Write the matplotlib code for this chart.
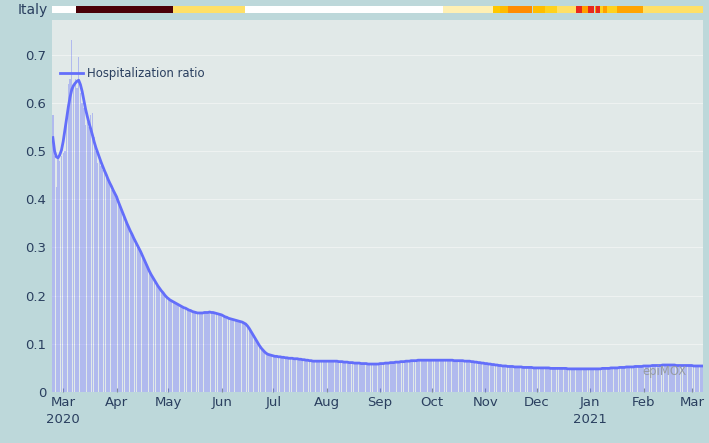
import pandas as pd
import matplotlib
matplotlib.use("Agg")
import matplotlib.pyplot as plt

# daily hospitalization ratio, Italy, from 2020-02-24
start_date = "2020-02-24"

ratio_smooth = [
    0.528, 0.500, 0.488, 0.486, 0.492, 0.502, 0.520, 0.544, 0.568, 0.592,
    0.612, 0.628, 0.636, 0.641, 0.645, 0.647, 0.638, 0.624, 0.606, 0.587,
    0.572, 0.558, 0.546, 0.533, 0.519, 0.507, 0.497, 0.487, 0.477, 0.468,
    0.459, 0.451, 0.442, 0.434, 0.427, 0.419, 0.412, 0.405, 0.395, 0.386,
    0.377, 0.368, 0.359, 0.350, 0.342, 0.334, 0.327, 0.319, 0.312, 0.305,
    0.298, 0.291, 0.283, 0.275, 0.267, 0.259, 0.251, 0.244, 0.238, 0.232,
    0.226, 0.220, 0.215, 0.210, 0.206, 0.201, 0.197, 0.194, 0.191, 0.189,
    0.187, 0.185, 0.183, 0.181, 0.179, 0.177, 0.175, 0.174, 0.172, 0.170,
    0.169, 0.167, 0.166, 0.165, 0.164, 0.164, 0.164, 0.164, 0.165, 0.165,
    0.165, 0.166, 0.165, 0.165, 0.164, 0.163, 0.162, 0.161, 0.160, 0.158,
    0.156, 0.155, 0.153, 0.152, 0.151, 0.150, 0.149, 0.148, 0.147, 0.146,
    0.145, 0.143, 0.141, 0.137, 0.132, 0.126, 0.120, 0.114, 0.108, 0.102,
    0.096, 0.091, 0.087, 0.083, 0.080, 0.078, 0.077, 0.076, 0.075, 0.074,
    0.074, 0.073, 0.073, 0.072, 0.072, 0.071, 0.071, 0.070, 0.070, 0.070,
    0.069, 0.069, 0.069, 0.068, 0.068, 0.067, 0.067, 0.066, 0.066, 0.065,
    0.065, 0.064, 0.064, 0.064, 0.064, 0.064, 0.064, 0.064, 0.064, 0.064,
    0.064, 0.064, 0.064, 0.064, 0.064, 0.064, 0.063, 0.063, 0.063, 0.062,
    0.062, 0.062, 0.061, 0.061, 0.061, 0.060, 0.060, 0.060, 0.060, 0.059,
    0.059, 0.059, 0.059, 0.058, 0.058, 0.058, 0.058, 0.058, 0.058, 0.058,
    0.059, 0.059, 0.059, 0.060, 0.060, 0.060, 0.061, 0.061, 0.061, 0.062,
    0.062, 0.062, 0.063, 0.063, 0.063, 0.064, 0.064, 0.064, 0.065, 0.065,
    0.065, 0.065, 0.066, 0.066, 0.066, 0.066, 0.066, 0.066, 0.066, 0.066,
    0.066, 0.066, 0.066, 0.066, 0.066, 0.066, 0.066, 0.066, 0.066, 0.066,
    0.066, 0.066, 0.066, 0.065, 0.065, 0.065, 0.065, 0.065, 0.065, 0.064,
    0.064, 0.064, 0.064, 0.063, 0.063, 0.062, 0.062, 0.061, 0.061, 0.060,
    0.060, 0.059, 0.059, 0.058, 0.058, 0.057, 0.057, 0.056, 0.056, 0.055,
    0.055, 0.054, 0.054, 0.054, 0.053, 0.053, 0.053, 0.053, 0.052, 0.052,
    0.052, 0.052, 0.052, 0.051, 0.051, 0.051, 0.051, 0.051, 0.051, 0.050,
    0.050, 0.050, 0.050, 0.050, 0.050, 0.050, 0.050, 0.050, 0.050, 0.049,
    0.049, 0.049, 0.049, 0.049, 0.049, 0.049, 0.049, 0.049, 0.049, 0.048,
    0.048, 0.048, 0.048, 0.048, 0.048, 0.048, 0.048, 0.048, 0.048, 0.048,
    0.048, 0.048, 0.048, 0.048, 0.048, 0.048, 0.048, 0.048, 0.048, 0.049,
    0.049, 0.049, 0.049, 0.049, 0.050, 0.050, 0.050, 0.050, 0.050, 0.051,
    0.051, 0.051, 0.051, 0.052, 0.052, 0.052, 0.052, 0.052, 0.053, 0.053,
    0.053, 0.053, 0.053, 0.054, 0.054, 0.054, 0.054, 0.054, 0.055, 0.055,
    0.055, 0.055, 0.055, 0.055, 0.056, 0.056, 0.056, 0.056, 0.056, 0.056,
    0.056, 0.056, 0.055, 0.055, 0.055, 0.055, 0.055, 0.055, 0.055, 0.055,
    0.055, 0.055, 0.054, 0.054, 0.054, 0.054, 0.054, 0.054,
]

# raw daily values of the first weeks (later days follow the smooth line)
ratio_daily_early = [
    0.575, 0.490, 0.425, 0.485, 0.480, 0.490, 0.495, 0.500, 0.560, 0.640,
    0.650, 0.730, 0.640, 0.650, 0.630, 0.695, 0.620, 0.600, 0.590, 0.555,
    0.560, 0.550, 0.575, 0.578, 0.530, 0.500, 0.475, 0.480, 0.470, 0.460,
    0.465, 0.450, 0.440, 0.430, 0.420, 0.420, 0.410, 0.400, 0.395, 0.383,
    0.377, 0.366, 0.360, 0.348, 0.342,
]

# restriction level strip on top
band_starts = [
    "2020-02-24", "2020-03-09", "2020-05-04", "2020-06-15", "2020-10-08",
    "2020-11-06", "2020-11-10", "2020-11-15", "2020-11-29", "2020-12-06",
    "2020-12-13", "2020-12-24", "2020-12-28", "2020-12-31", "2021-01-04",
    "2021-01-05", "2021-01-07", "2021-01-09", "2021-01-11", "2021-01-17",
    "2021-02-01",
]
band_colors = [
    "#ffffff", "#4a0007", "#ffe066", "#ffffff", "#fff0b4",
    "#ffc800", "#ffbb00", "#ff8c00", "#ffbe00", "#ffd21e",
    "#ffe066", "#e8281e", "#ffa000", "#e8281e", "#ffa000",
    "#e8281e", "#ffd21e", "#ffa000", "#ffd21e", "#ffa500",
    "#ffe066",
]

text_color = "#2a3f5f"
line_color = "#636efa"

dates = pd.date_range(start_date, periods=len(ratio_smooth), freq="D")
bars = ratio_daily_early + ratio_smooth[len(ratio_daily_early):]

half_day = pd.Timedelta(hours=12)
x_lo = dates[0] - half_day
x_hi = dates[-1] + half_day

fig = plt.figure(figsize=(7.09, 4.43), dpi=100)
fig.patch.set_facecolor("#bdd8da")

W, H = 709, 443
ax = fig.add_axes([52 / W, (H - 392) / H, 651 / W, 372 / H])
ax.set_facecolor("#e1e9e8")

ax.bar(dates, bars, width=0.8, color=line_color, alpha=0.38, linewidth=0)
ax.plot(dates, ratio_smooth, color=line_color, lw=2.0,
        label="Hospitalization ratio")

ax.set_xlim(x_lo, x_hi)
ax.set_ylim(0, 0.772)
ax.set_yticks([0, 0.1, 0.2, 0.3, 0.4, 0.5, 0.6, 0.7])
ax.set_yticklabels(["0", "0.1", "0.2", "0.3", "0.4", "0.5", "0.6", "0.7"])
ax.yaxis.grid(True, color="#eef2f1", lw=0.8)
ax.set_axisbelow(True)

ticks = pd.date_range("2020-03-01", "2021-03-01", freq="MS")
labels = []
for t in ticks:
    if t == ticks[0] or t.month == 1:
        labels.append(t.strftime("%b\n%Y"))
    else:
        labels.append(t.strftime("%b"))
ax.set_xticks(ticks)
ax.set_xticklabels(labels, linespacing=1.35, va="top")
ax.tick_params(axis="x", direction="in", length=3, width=0.8,
               color="#7f8c9a", labelsize=9.5, labelcolor=text_color, pad=3)
ax.tick_params(axis="y", length=0, labelsize=9.5, labelcolor=text_color, pad=4)
for s in ax.spines.values():
    s.set_visible(False)

ax.legend(loc="center left", bbox_to_anchor=(0.012, 0.857), frameon=False,
          fontsize=8.4, labelcolor=text_color, handlelength=2.0,
          handletextpad=0.3, borderpad=0, borderaxespad=0)

ax.text(0.975, 0.055, "epiMOX", transform=ax.transAxes, ha="right",
        va="center", fontsize=8.4, color="#969ca3")

# top strip
bx = fig.add_axes([52 / W, (H - 12.5) / H, 651 / W, 6.5 / H])
edges = [pd.Timestamp(d) - half_day for d in band_starts] + [x_hi]
for i, c in enumerate(band_colors):
    bx.axvspan(edges[i], edges[i + 1], color=c, lw=0)
bx.set_xlim(x_lo, x_hi)
bx.set_ylim(0, 1)
bx.axis("off")

fig.text(48 / W, 1 - 10 / H, "Italy", ha="right", va="center",
         fontsize=10, color=text_color)

fig.savefig("out.png", dpi=100, facecolor=fig.get_facecolor())
